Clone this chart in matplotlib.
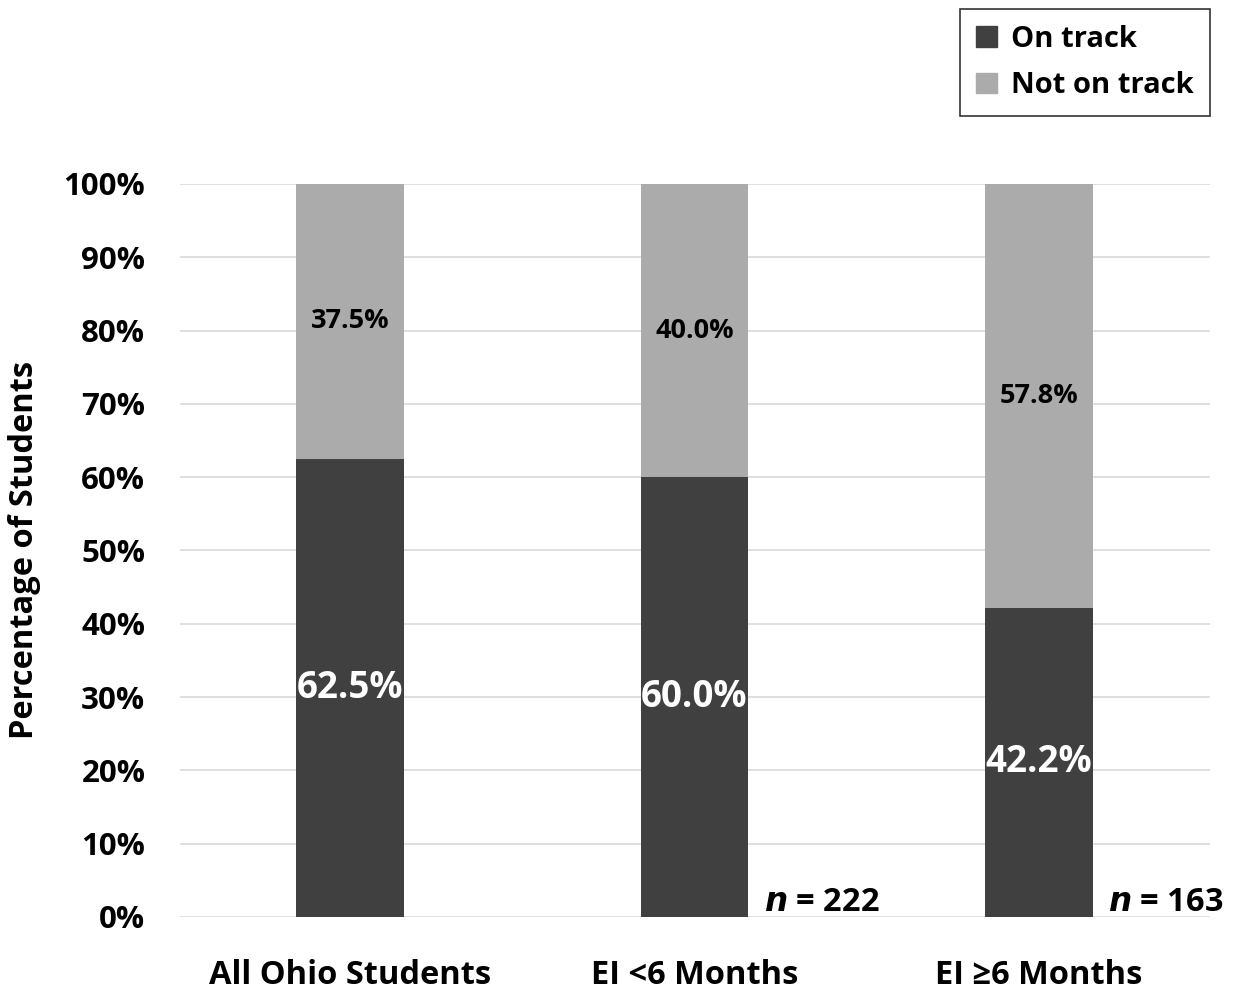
import matplotlib.pyplot as plt
from matplotlib.patches import Patch

plt.rcParams['font.family'] = ['Open Sans', 'DejaVu Sans']

# Data
groups = ["All Ohio Students", "EI <6 Months", "EI \u22656 Months"]
on_track = [62.5, 60.0, 42.2]
not_on_track = [37.5, 40.0, 57.8]
n_labels = [None, "222", "163"]

DARK = "#404040"
LIGHT = "#ababab"

fig = plt.figure(figsize=(12.46, 9.94), dpi=100)
ax = fig.add_axes([0.1445, 0.0775, 0.8265, 0.7375])

x = list(range(len(groups)))
width = 0.313
ax.bar(x, on_track, width, color=DARK, zorder=3)
ax.bar(x, not_on_track, width, bottom=on_track, color=LIGHT, zorder=3)

# value labels
for i in x:
    ax.text(i, on_track[i] / 2, f"{on_track[i]:.1f}%", color="white",
            fontsize=26.5, fontweight="bold", ha="center", va="center", zorder=4)
    ax.text(i, on_track[i] + not_on_track[i] / 2, f"{not_on_track[i]:.1f}%",
            color="black", fontsize=19.5, fontweight="bold", ha="center",
            va="center", zorder=4)
    if n_labels[i]:
        ax.text(i + width / 2 + 0.045, 2, r"$\mathbfit{n}$" + " = " + n_labels[i],
                fontsize=23.5, fontweight="bold", ha="left", va="center",
                zorder=4)

ax.set_ylim(0, 100)
ax.set_xlim(-0.493, 2.496)
ax.set_yticks(range(0, 101, 10))
ax.set_yticklabels([f"{v}%" for v in range(0, 101, 10)], fontsize=22.5,
                   fontweight="bold")
ax.set_xticks(x)
ax.set_xticklabels(groups, fontsize=23.5, fontweight="bold")
ax.tick_params(axis="both", length=0)
ax.tick_params(axis="x", pad=30)
ax.tick_params(axis="y", pad=25)
ax.yaxis.grid(True, color="#d9d9d9", linewidth=1.2, zorder=0)
for s in ax.spines.values():
    s.set_visible(False)
ax.set_ylabel("Percentage of Students", fontsize=23.5, fontweight="bold",
              labelpad=16)

handles = [Patch(color=DARK, label="On track"),
           Patch(color=LIGHT, label="Not on track")]
leg = fig.legend(handles=handles, loc="upper right",
                 bbox_to_anchor=(0.978, 1.0), frameon=True,
                 fancybox=False, edgecolor="black", handlelength=0.7,
                 handleheight=0.7, handletextpad=0.5, labelspacing=0.6,
                 borderpad=0.55, borderaxespad=0.3,
                 prop={"weight": "bold", "size": 21})
leg.get_frame().set_linewidth(1.2)

fig.savefig("out.png", dpi=100)
